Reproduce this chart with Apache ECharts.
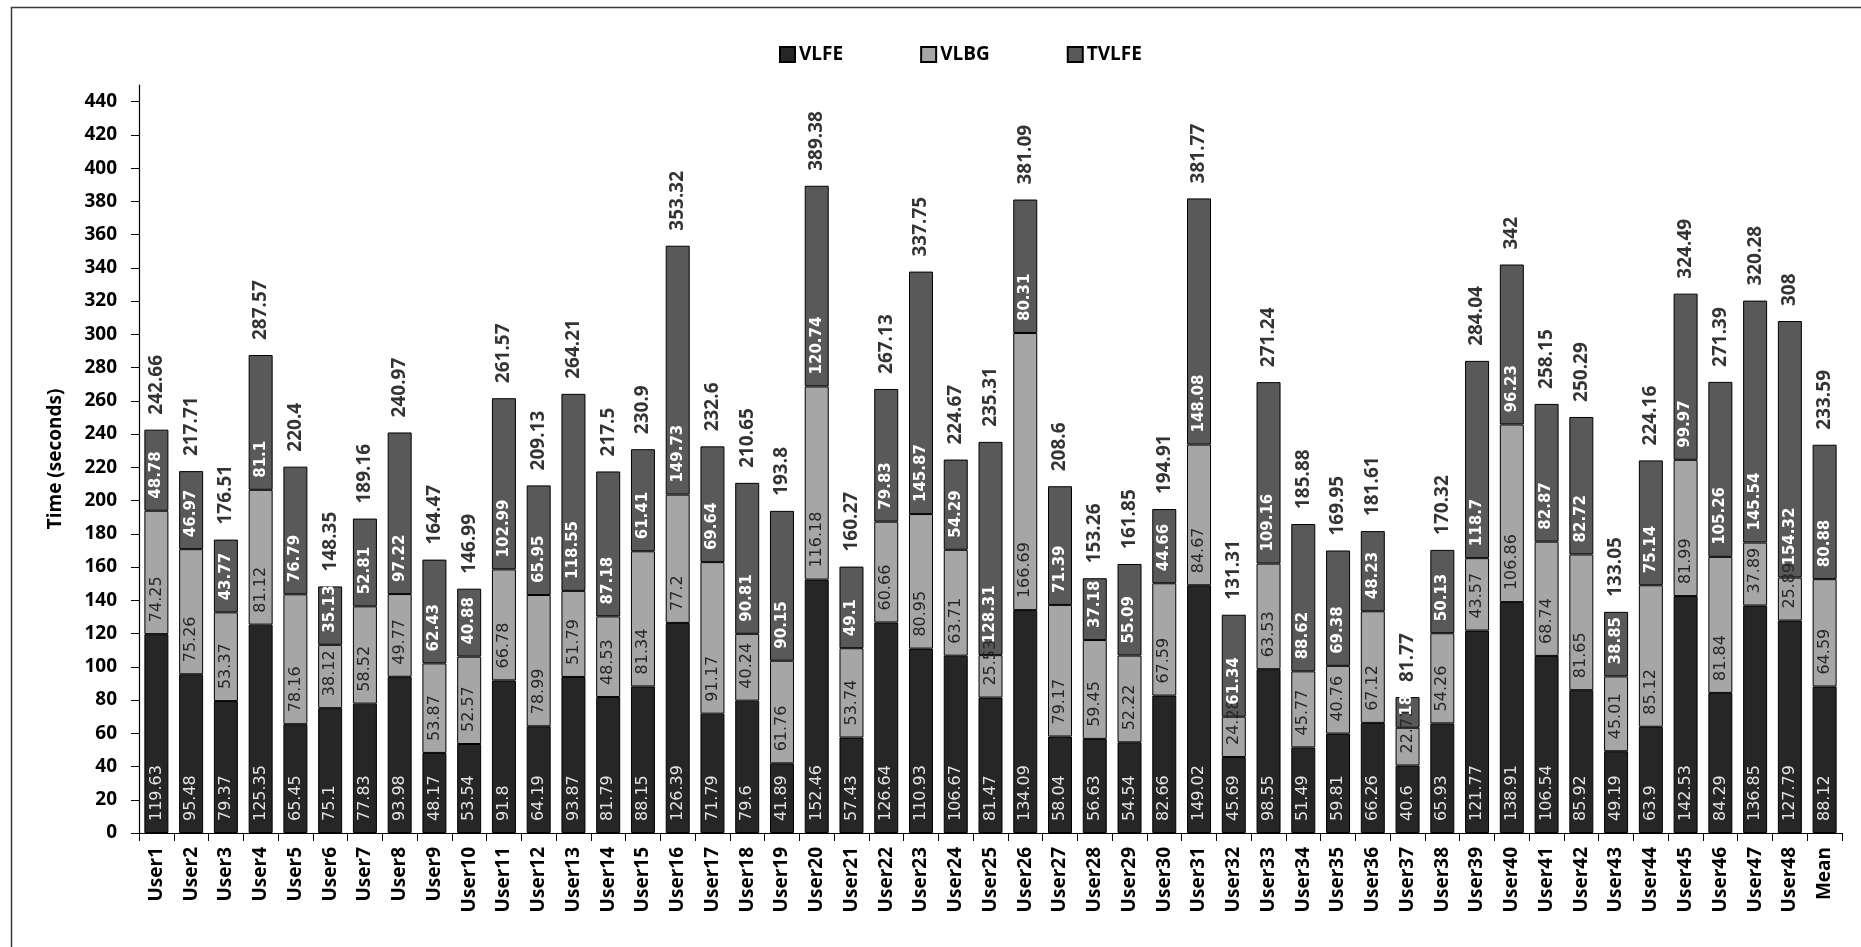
<!DOCTYPE html>
<html>
<head>
<meta charset="utf-8">
<title>Time per user</title>
<script src="https://cdn.jsdelivr.net/npm/echarts@6/dist/echarts.min.js"></script>
<style>
  html, body { margin: 0; padding: 0; background: #fff; }
  #chart { width: 1861px; height: 947px; }
</style>
</head>
<body>
<div id="chart"></div>
<script>
// Categories along the x axis
const categories = [
  'User1','User2','User3','User4','User5','User6','User7','User8','User9','User10',
  'User11','User12','User13','User14','User15','User16','User17','User18','User19','User20',
  'User21','User22','User23','User24','User25','User26','User27','User28','User29','User30',
  'User31','User32','User33','User34','User35','User36','User37','User38','User39','User40',
  'User41','User42','User43','User44','User45','User46','User47','User48','Mean'
];

// Stacked segments, bottom to top (seconds)
const vlfe = [
  119.63, 95.48, 79.37, 125.35, 65.45, 75.1, 77.83, 93.98, 48.17, 53.54,
  91.8, 64.19, 93.87, 81.79, 88.15, 126.39, 71.79, 79.6, 41.89, 152.46,
  57.43, 126.64, 110.93, 106.67, 81.47, 134.09, 58.04, 56.63, 54.54, 82.66,
  149.02, 45.69, 98.55, 51.49, 59.81, 66.26, 40.6, 65.93, 121.77, 138.91,
  106.54, 85.92, 49.19, 63.9, 142.53, 84.29, 136.85, 127.79, 88.12
];
const vlbg = [
  74.25, 75.26, 53.37, 81.12, 78.16, 38.12, 58.52, 49.77, 53.87, 52.57,
  66.78, 78.99, 51.79, 48.53, 81.34, 77.2, 91.17, 40.24, 61.76, 116.18,
  53.74, 60.66, 80.95, 63.71, 25.53, 166.69, 79.17, 59.45, 52.22, 67.59,
  84.67, 24.28, 63.53, 45.77, 40.76, 67.12, 22.71, 54.26, 43.57, 106.86,
  68.74, 81.65, 45.01, 85.12, 81.99, 81.84, 37.89, 25.89, 64.59
];
const tvlfe = [
  48.78, 46.97, 43.77, 81.1, 76.79, 35.13, 52.81, 97.22, 62.43, 40.88,
  102.99, 65.95, 118.55, 87.18, 61.41, 149.73, 69.64, 90.81, 90.15, 120.74,
  49.1, 79.83, 145.87, 54.29, 128.31, 80.31, 71.39, 37.18, 55.09, 44.66,
  148.08, 61.34, 109.16, 88.62, 69.38, 48.23, 18.46, 50.13, 118.7, 96.23,
  82.87, 82.72, 38.85, 75.14, 99.97, 105.26, 145.54, 154.32, 80.88
];

// Y axis tick labels
const yTicks = [0, 20, 40, 60, 80, 100, 120, 140, 160, 180, 200, 220,
  240, 260, 280, 300, 320, 340, 360, 380, 400, 420, 440];

// Height of each full stack, shown above the bar
const totals = categories.map((_, i) =>
  Math.round((vlfe[i] + vlbg[i] + tvlfe[i]) * 100) / 100);

const BOLD = 'Open Sans';
const INNER = 'DejaVu Sans';

function segLabel(color, weight, size) {
  return {
    show: true,
    position: 'insideBottom',
    rotate: 90,
    align: 'left',
    verticalAlign: 'middle',
    distance: 12,
    color: color,
    fontFamily: INNER,
    fontWeight: weight,
    fontSize: size
  };
}

const chart = echarts.init(document.getElementById('chart'), null, { renderer: 'canvas' });

chart.setOption({
  animation: false,
  backgroundColor: '#ffffff',
  graphic: [{
    type: 'rect',
    left: 9, top: 5,
    shape: { width: 1900, height: 1000 },
    style: { fill: 'none', stroke: '#3a3a3a', lineWidth: 1.5 },
    silent: true
  }],
  legend: {
    data: ['VLFE', 'VLBG', 'TVLFE'],
    left: 774,
    top: 40,
    itemWidth: 15,
    itemHeight: 15,
    itemGap: 77,
    icon: 'rect',
    textStyle: { fontFamily: BOLD, fontWeight: 'bold', fontSize: 19, color: '#000', padding: [0, 0, 0, -1] }
  },
  grid: { left: 139, right: 19, top: 85, bottom: 114, containLabel: false },
  xAxis: {
    type: 'category',
    data: categories,
    boundaryGap: true,
    axisLine: { lineStyle: { color: '#000', width: 1.2 } },
    axisTick: { show: true, inside: false, length: 8, interval: 0, lineStyle: { color: '#000' } },
    axisLabel: {
      interval: 0, rotate: 90, margin: 14,
      fontFamily: BOLD, fontWeight: 'bold', fontSize: 19, color: '#000'
    },
    splitLine: { show: false }
  },
  yAxis: {
    type: 'value',
    min: 0,
    max: 450,
    interval: 10,
    name: 'Time (seconds)',
    nameLocation: 'middle',
    nameGap: 74,
    nameTextStyle: { fontFamily: BOLD, fontWeight: 'bold', fontSize: 19, color: '#000' },
    axisLine: { show: true, lineStyle: { color: '#000', width: 1.2 } },
    axisTick: { show: true, length: 8, customValues: yTicks, lineStyle: { color: '#000' } },
    axisLabel: {
      customValues: yTicks, margin: 22,
      fontFamily: BOLD, fontWeight: 'bold', fontSize: 19, color: '#000'
    },
    splitLine: { show: false }
  },
  series: [
    {
      name: 'VLFE', type: 'bar', stack: 'time', barWidth: 24, data: vlfe,
      itemStyle: { color: '#262626', borderColor: '#000', borderWidth: 1 },
      label: segLabel('#e4e4e4', 'normal', 16)
    },
    {
      name: 'VLBG', type: 'bar', stack: 'time', barWidth: 24, data: vlbg,
      itemStyle: { color: '#a6a6a6', borderColor: '#000', borderWidth: 1 },
      label: segLabel('#262626', 'normal', 16)
    },
    {
      name: 'TVLFE', type: 'bar', stack: 'time', barWidth: 24, data: tvlfe,
      itemStyle: { color: '#595959', borderColor: '#000', borderWidth: 1 },
      label: segLabel('#ffffff', 'bold', 15)
    },
    {
      name: 'Total', type: 'scatter', data: totals, symbolSize: 0, silent: true,
      label: {
        show: true, position: 'top', distance: 15, rotate: 90,
        align: 'left', verticalAlign: 'middle',
        fontFamily: BOLD, fontWeight: 'bold', fontSize: 19, color: '#000'
      }
    }
  ]
});
</script>
</body>
</html>
